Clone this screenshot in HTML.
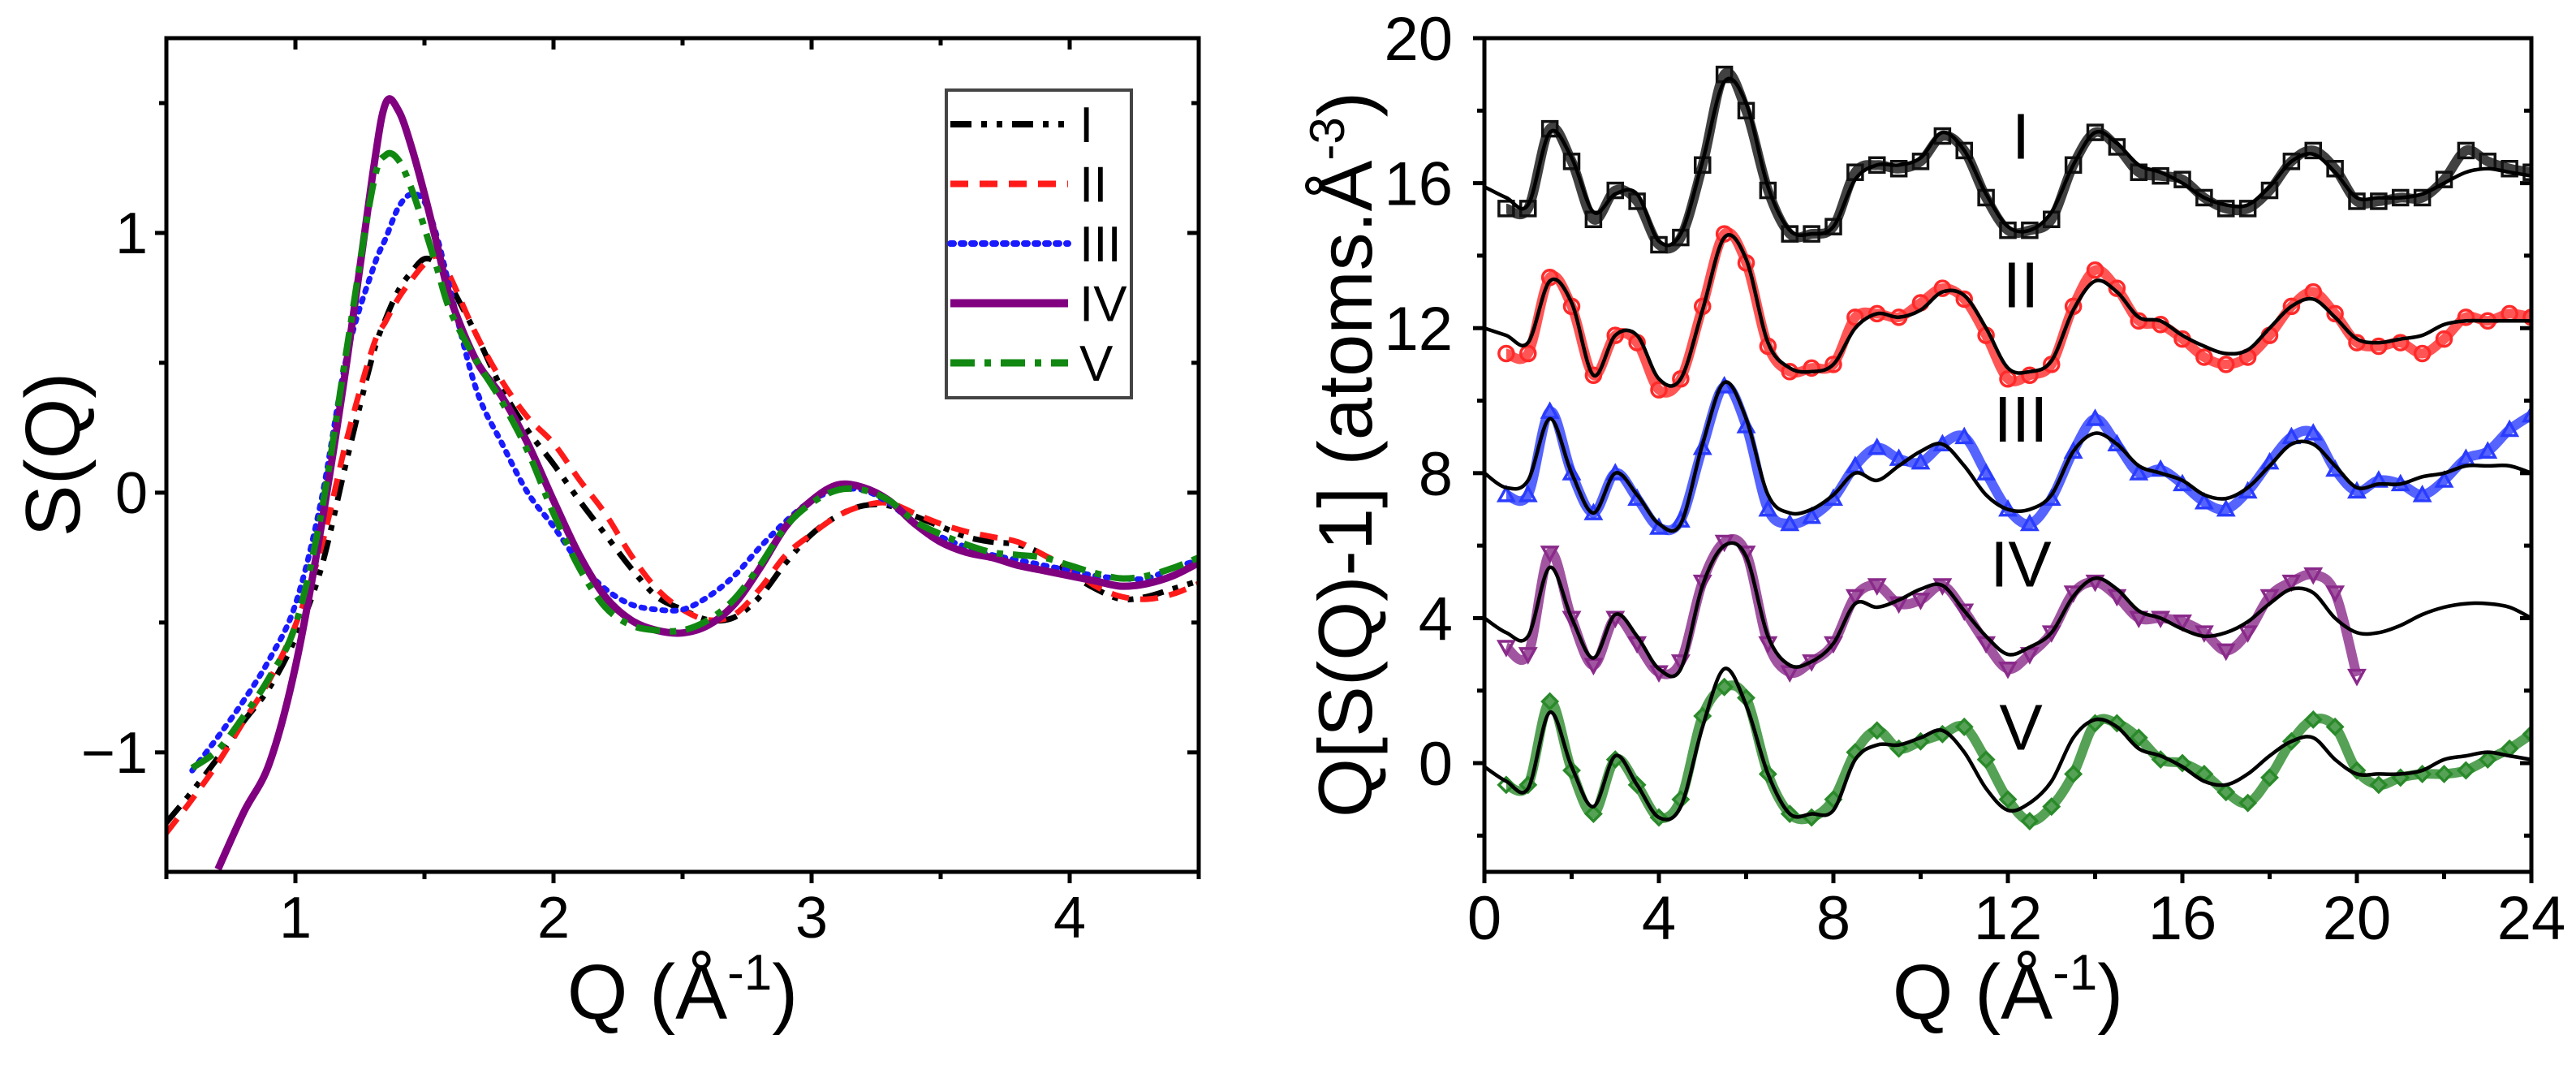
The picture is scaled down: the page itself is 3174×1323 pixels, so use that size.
<!DOCTYPE html>
<html><head><meta charset="utf-8">
<style>
html,body{margin:0;padding:0;background:#fff;}
svg{display:block;font-family:"Liberation Sans",sans-serif;}
</style></head>
<body>
<svg id="fig" width="3174" height="1323" viewBox="0 0 3174 1323" xmlns="http://www.w3.org/2000/svg">
<g id="left"></g>
<g id="right"></g>
</svg>
<script>
// ---------- Left chart data ----------
const leftQ = [0.5,0.6,0.7,0.8,0.9,1.0,1.1,1.2,1.3,1.35,1.4,1.45,1.5,1.55,1.6,1.7,1.8,1.9,2.0,2.1,2.2,2.3,2.4,2.5,2.6,2.7,2.8,2.9,3.0,3.1,3.2,3.3,3.4,3.5,3.6,3.7,3.8,3.9,4.0,4.1,4.2,4.3,4.4,4.5];
const sI   = [-1.27,-1.15,-1.02,-0.88,-0.75,-0.56,-0.29,0.13,0.53,0.67,0.78,0.85,0.90,0.88,0.80,0.61,0.40,0.24,0.11,-0.03,-0.16,-0.29,-0.40,-0.45,-0.49,-0.48,-0.40,-0.27,-0.16,-0.09,-0.05,-0.05,-0.09,-0.13,-0.17,-0.19,-0.20,-0.24,-0.31,-0.37,-0.41,-0.40,-0.37,-0.34];
const sII  = [-1.31,-1.18,-1.04,-0.88,-0.72,-0.51,-0.21,0.21,0.56,0.66,0.75,0.82,0.88,0.91,0.83,0.61,0.43,0.29,0.19,0.05,-0.08,-0.24,-0.37,-0.45,-0.49,-0.47,-0.37,-0.24,-0.16,-0.09,-0.05,-0.04,-0.08,-0.12,-0.15,-0.17,-0.19,-0.24,-0.29,-0.36,-0.40,-0.41,-0.39,-0.35];
const sIII = [null,-1.07,-0.94,-0.80,-0.64,-0.43,-0.03,0.53,0.86,0.98,1.10,1.15,1.12,0.98,0.78,0.40,0.19,0.00,-0.13,-0.27,-0.37,-0.43,-0.45,-0.45,-0.40,-0.32,-0.21,-0.11,-0.03,0.01,0.01,-0.04,-0.12,-0.17,-0.21,-0.24,-0.26,-0.28,-0.30,-0.32,-0.33,-0.33,-0.29,-0.26];
const sIV  = [null,null,-1.45,-1.23,-1.04,-0.67,-0.13,0.51,1.23,1.50,1.47,1.33,1.15,0.95,0.75,0.51,0.37,0.19,-0.03,-0.24,-0.40,-0.49,-0.53,-0.54,-0.51,-0.43,-0.29,-0.13,-0.03,0.03,0.02,-0.03,-0.12,-0.19,-0.23,-0.25,-0.28,-0.30,-0.32,-0.34,-0.36,-0.35,-0.32,-0.27];
const sV   = [null,-1.06,-0.99,-0.86,-0.71,-0.51,-0.08,0.56,1.18,1.30,1.28,1.17,1.02,0.86,0.70,0.51,0.35,0.16,-0.08,-0.29,-0.44,-0.51,-0.53,-0.53,-0.49,-0.41,-0.28,-0.13,-0.04,0.01,0.01,-0.03,-0.11,-0.16,-0.20,-0.23,-0.24,-0.25,-0.28,-0.31,-0.33,-0.32,-0.29,-0.25];
const leftNames = ["I","II","III","IV","V"];
const leftXTicks = [1,2,3,4];
const leftYTicks = [-1,0,1];

// ---------- Right chart data (Q grid step 0.5) ----------
const fitStep = 0.5;
const fitI   = [15.9,15.6,15.4,17.4,16.7,15.2,15.7,15.7,14.4,14.6,16.6,18.8,18.2,15.9,14.7,14.6,14.8,16.1,16.5,16.5,16.7,17.4,16.9,15.7,14.8,14.7,15.2,16.5,17.4,17.1,16.5,16.3,16.0,15.6,15.4,15.4,15.9,16.6,16.8,16.3,15.6,15.6,15.6,15.7,16.0,16.3,16.4,16.3,16.2];
const fitII  = [12.0,11.8,11.6,13.3,12.7,10.7,11.8,11.8,10.6,10.6,12.5,14.5,13.9,11.6,10.9,10.8,11.0,12.0,12.4,12.3,12.5,13.0,12.9,12.0,10.9,10.8,11.1,12.5,13.3,13.0,12.3,12.2,11.8,11.5,11.3,11.4,12.0,12.6,12.8,12.3,11.7,11.6,11.7,11.8,12.1,12.2,12.2,12.2,12.2];
const fitIII = [8.0,7.6,7.8,9.5,8.0,6.9,8.0,7.4,6.6,6.6,8.8,10.5,9.5,7.4,6.9,7.0,7.4,8.0,7.8,8.2,8.6,8.8,8.2,7.4,7.0,7.0,7.4,8.6,9.1,8.8,8.2,8.0,7.8,7.4,7.3,7.6,8.2,8.8,8.8,8.2,7.6,7.7,7.7,7.9,8.0,8.2,8.2,8.2,8.0];
const fitIV  = [4.0,3.6,3.5,5.4,4.0,2.9,4.1,3.5,2.6,2.6,4.9,6.0,5.7,3.5,2.7,2.8,3.3,4.4,4.3,4.5,4.8,4.9,4.2,3.5,3.0,3.2,3.6,4.6,5.1,4.8,4.2,4.0,3.7,3.5,3.6,3.9,4.4,4.8,4.7,4.0,3.6,3.6,3.8,4.1,4.3,4.4,4.4,4.3,4.0];
const fitV   = [-0.1,-0.5,-0.7,1.4,-0.1,-1.2,0.2,-0.6,-1.5,-1.2,1.0,2.6,1.6,-0.3,-1.4,-1.4,-1.3,0.1,0.5,0.5,0.7,0.9,0.3,-0.7,-1.3,-1.1,-0.5,0.7,1.2,1.0,0.4,0.2,-0.1,-0.5,-0.6,-0.3,0.2,0.6,0.7,0.1,-0.3,-0.3,-0.3,-0.2,0.1,0.2,0.3,0.2,0.1];
// measured points from Q=0.5 step 0.5
const ptsI   = [15.3,15.3,17.5,16.6,15.0,15.8,15.5,14.3,14.5,16.5,19.0,18.0,15.8,14.6,14.6,14.8,16.3,16.5,16.4,16.6,17.3,16.9,15.6,14.7,14.7,15.0,16.5,17.4,17.0,16.3,16.2,16.1,15.6,15.3,15.3,15.8,16.6,16.9,16.4,15.5,15.5,15.6,15.6,16.1,16.9,16.6,16.4,16.3];
const ptsII  = [11.3,11.3,13.4,12.6,10.7,11.8,11.6,10.3,10.6,12.6,14.6,13.8,11.5,10.8,10.9,11.0,12.3,12.4,12.3,12.7,13.1,12.8,11.8,10.6,10.7,11.0,12.6,13.6,13.1,12.2,12.1,11.7,11.2,11.0,11.2,11.8,12.6,13.0,12.4,11.6,11.5,11.6,11.3,11.7,12.3,12.2,12.4,12.3];
const ptsIII = [7.4,7.4,9.7,8.0,6.9,8.0,7.3,6.5,6.7,8.7,10.4,9.3,7.0,6.6,6.8,7.3,8.2,8.7,8.4,8.3,8.8,9.0,8.0,7.0,6.6,7.3,8.6,9.5,8.8,8.0,8.1,7.7,7.2,7.0,7.5,8.3,9.0,9.1,8.1,7.5,7.8,7.7,7.4,7.8,8.4,8.6,9.2,9.6];
const ptsIV  = [3.2,3.0,5.8,4.0,2.7,4.0,3.3,2.5,2.8,5.0,6.1,5.8,3.3,2.5,2.8,3.3,4.6,4.9,4.4,4.5,4.9,4.2,3.3,2.6,3.0,3.6,4.7,5.0,4.6,4.0,4.0,3.9,3.6,3.1,3.6,4.6,5.0,5.2,4.7,2.4];
const ptsV   = [-0.6,-0.6,1.7,-0.2,-1.4,0.1,-0.6,-1.5,-1.0,1.3,2.1,1.8,-0.3,-1.4,-1.5,-1.0,0.3,0.9,0.4,0.6,0.8,1.0,0.1,-1.0,-1.6,-1.2,-0.3,1.1,1.1,0.7,0.1,0.0,-0.3,-0.8,-1.1,-0.4,0.6,1.2,1.0,-0.2,-0.6,-0.4,-0.3,-0.3,-0.2,0.1,0.4,0.8];
const rightLabels = ["I","II","III","IV","V"];
const labelY = [17.3,13.2,9.5,5.5,1.0];
const rightXTicks = [0,4,8,12,16,20,24];
const rightYTicks = [0,4,8,12,16,20];

const NS = "http://www.w3.org/2000/svg";
function mk(parent, tag, attrs, text){
  const e = document.createElementNS(NS, tag);
  for (const k in attrs) e.setAttribute(k, attrs[k]);
  if (text !== undefined) e.textContent = text;
  parent.appendChild(e);
  return e;
}
function smoothPath(pts){
  if (pts.length < 2) return "";
  let d = "M" + pts[0][0].toFixed(1) + "," + pts[0][1].toFixed(1);
  for (let i = 0; i < pts.length - 1; i++){
    const p0 = pts[i-1] || pts[i], p1 = pts[i], p2 = pts[i+1], p3 = pts[i+2] || p2;
    const c1x = p1[0] + (p2[0]-p0[0])/6, c1y = p1[1] + (p2[1]-p0[1])/6;
    const c2x = p2[0] - (p3[0]-p1[0])/6, c2y = p2[1] - (p3[1]-p1[1])/6;
    d += "C" + c1x.toFixed(1)+","+c1y.toFixed(1)+" "+c2x.toFixed(1)+","+c2y.toFixed(1)+" "+p2[0].toFixed(1)+","+p2[1].toFixed(1);
  }
  return d;
}

// ================= LEFT =================
(function(){
  const g = document.getElementById("left");
  const L=205, R=1477, T=47, B=1074;
  const x = q => L + (q-0.5)/(4.5-0.5)*(R-L);
  const y = v => T + (1.75 - v)/(1.75 - (-1.46))*(B-T);
  const defs = mk(g,"defs",{});
  const cp = mk(defs,"clipPath",{id:"clipL"});
  mk(cp,"rect",{x:L,y:T,width:R-L,height:B-T});
  const styles = [
    {c:"#000000", w:7, dash:"26,12,7,12,7,12"},
    {c:"#ff1a1a", w:7, dash:"22,14"},
    {c:"#1a1aff", w:7, dash:"4,9", cap:"round"},
    {c:"#800080", w:9, dash:""},
    {c:"#118811", w:8, dash:"30,12,8,12"}
  ];
  const series = [sI,sII,sIII,sIV,sV];
  series.forEach((s,k)=>{
    const pts=[];
    s.forEach((v,i)=>{ if(v!==null) pts.push([x(leftQ[i]), y(v)]); });
    const p = mk(g,"path",{d:smoothPath(pts), fill:"none", stroke:styles[k].c, "stroke-width":styles[k].w,
      "stroke-dasharray":styles[k].dash, "stroke-linecap":styles[k].cap||"butt", "clip-path":"url(#clipL)"});
    
    
  });
  const fr = mk(g,"rect",{x:L,y:T,width:R-L,height:B-T,fill:"none",stroke:"#000","stroke-width":5});
  
  
  for (let q=0.5; q<=4.5001; q+=0.5){
    const major = Math.abs(q-Math.round(q))<1e-6;
    const len = major?14:9;
    mk(g,"line",{x1:x(q),x2:x(q),y1:B,y2:B+len,stroke:"#000","stroke-width":5});
    mk(g,"line",{x1:x(q),x2:x(q),y1:T,y2:T+len,stroke:"#000","stroke-width":5});
  }
  for (let v=-1; v<=1.5001; v+=0.5){
    const major = Math.abs(v-Math.round(v))<1e-6;
    const len = major?14:9;
    mk(g,"line",{x1:L-len,x2:L,y1:y(v),y2:y(v),stroke:"#000","stroke-width":5});
    mk(g,"line",{x1:R-len,x2:R,y1:y(v),y2:y(v),stroke:"#000","stroke-width":5});
  }
  leftXTicks.forEach(q=>{
    const t = mk(g,"text",{x:x(q),y:1155,"font-size":72,"text-anchor":"middle",fill:"#000"}, String(q));
    
    
  });
  leftYTicks.forEach(v=>{
    const t = mk(g,"text",{x:182,y:y(v)+25,"font-size":72,"text-anchor":"end",fill:"#000"}, v<0?"\u2212"+Math.abs(v):String(v));
    
    
  });
  const xt = mk(g,"text",{x:(L+R)/2,y:1255,"font-size":96,"text-anchor":"middle",fill:"#000"});
  
  
  mk(xt,"tspan",{},"Q (Å");
  mk(xt,"tspan",{dy:-36,"font-size":62},"-1");
  mk(xt,"tspan",{dy:36},")");
  const yt = mk(g,"text",{x:0,y:0,"font-size":96,"text-anchor":"middle",fill:"#000",transform:"translate(98,560) rotate(-90)"},"S(Q)");
  
  
  const lg = mk(g,"g",{});
  
  
  mk(lg,"rect",{x:1166,y:111,width:228,height:379,fill:"#fff",stroke:"#444","stroke-width":4});
  leftNames.forEach((n,k)=>{
    const ry = 153 + k*73.5;
    const e = mk(lg,"g",{});
    
    
    mk(e,"line",{x1:1171,x2:1316,y1:ry,y2:ry,stroke:styles[k].c,"stroke-width":styles[k].w+1,"stroke-dasharray":styles[k].dash,"stroke-linecap":styles[k].cap||"butt"});
    mk(e,"text",{x:1330,y:ry+22,"font-size":62,fill:"#000"},n);
  });
})();

// ================= RIGHT =================
(function(){
  const g = document.getElementById("right");
  const L=1829, R=3119, T=47, B=1074;
  const x = q => L + q/24*(R-L);
  const y = v => T + (20 - v)/23*(B-T);
  const defs = mk(g,"defs",{});
  const cp = mk(defs,"clipPath",{id:"clipR"});
  mk(cp,"rect",{x:L,y:T,width:R-L,height:B-T});
  const colors = ["#111111","#ff2a2a","#2a3cff","#8a2a8a","#2a8a2a"];
  const fits = [fitI,fitII,fitIII,fitIV,fitV];
  const pts = [ptsI,ptsII,ptsIII,ptsIV,ptsV];
  const shapes = ["square","circle","tri-up","tri-down","diamond"];
  const area = mk(g,"g",{"clip-path":"url(#clipR)"});
  pts.forEach((arr,k)=>{
    const sg = mk(area,"g",{});
    
    
    const pp = arr.map((v,i)=>[x(0.5+i*fitStep), y(v)]);
    mk(sg,"path",{d:smoothPath(pp),fill:"none",stroke:colors[k],"stroke-width":12,"stroke-opacity":0.8});
    arr.forEach((v,i)=>{
      const cx = x(0.5+i*fitStep), cy = y(v), r = 9;
      let m;
      const st = {fill:"none",stroke:colors[k],"stroke-width":3.5};
      if (shapes[k]==="square") m = mk(sg,"rect",Object.assign({x:cx-r,y:cy-r,width:2*r,height:2*r},st));
      else if (shapes[k]==="circle") m = mk(sg,"circle",Object.assign({cx:cx,cy:cy,r:r},st));
      else if (shapes[k]==="tri-up") m = mk(sg,"polygon",Object.assign({points:`${cx},${cy-r} ${cx-r},${cy+r*0.8} ${cx+r},${cy+r*0.8}`},st));
      else if (shapes[k]==="tri-down") m = mk(sg,"polygon",Object.assign({points:`${cx},${cy+r} ${cx-r},${cy-r*0.8} ${cx+r},${cy-r*0.8}`},st));
      else m = mk(sg,"polygon",Object.assign({points:`${cx},${cy-r} ${cx+r},${cy} ${cx},${cy+r} ${cx-r},${cy}`},st));
      
      
    });
  });
  fits.forEach((arr,k)=>{
    const pp = arr.map((v,i)=>[x(i*fitStep), y(v)]);
    const p = mk(area,"path",{d:smoothPath(pp),fill:"none",stroke:"#000","stroke-width":4.5});
    
    
  });
  const fr = mk(g,"rect",{x:L,y:T,width:R-L,height:B-T,fill:"none",stroke:"#000","stroke-width":5});
  
  
  for (let q=0; q<=24; q+=2){
    const len = q%4===0?14:9;
    mk(g,"line",{x1:x(q),x2:x(q),y1:B,y2:B+len,stroke:"#000","stroke-width":5});
  }
  for (let v=-2; v<=20; v+=2){
    const len = v%4===0?14:9;
    mk(g,"line",{x1:L-len,x2:L,y1:y(v),y2:y(v),stroke:"#000","stroke-width":5});
    mk(g,"line",{x1:R-len,x2:R,y1:y(v),y2:y(v),stroke:"#000","stroke-width":5});
  }
  rightXTicks.forEach(q=>{
    const t = mk(g,"text",{x:x(q),y:1157,"font-size":76,"text-anchor":"middle",fill:"#000"},String(q));
    
    
  });
  rightYTicks.forEach(v=>{
    const t = mk(g,"text",{x:1790,y:y(v)+27,"font-size":76,"text-anchor":"end",fill:"#000"},String(v));
    
    
  });
  rightLabels.forEach((n,k)=>{
    const t = mk(g,"text",{x:2490,y:y(labelY[k])+28,"font-size":80,"text-anchor":"middle",fill:"#000"},n);
    
    
  });
  const xt = mk(g,"text",{x:(L+R)/2,y:1255,"font-size":96,"text-anchor":"middle",fill:"#000"});
  
  
  mk(xt,"tspan",{},"Q (Å");
  mk(xt,"tspan",{dy:-36,"font-size":62},"-1");
  mk(xt,"tspan",{dy:36},")");
  const yt = mk(g,"text",{x:0,y:0,"font-size":94,"text-anchor":"middle",fill:"#000",transform:"translate(1690,560) rotate(-90)"});
  
  
  mk(yt,"tspan",{},"Q[S(Q)-1] (atoms.Å");
  mk(yt,"tspan",{dy:-34,"font-size":60},"-3");
  mk(yt,"tspan",{dy:34},")");
})();
</script>
</body></html>
